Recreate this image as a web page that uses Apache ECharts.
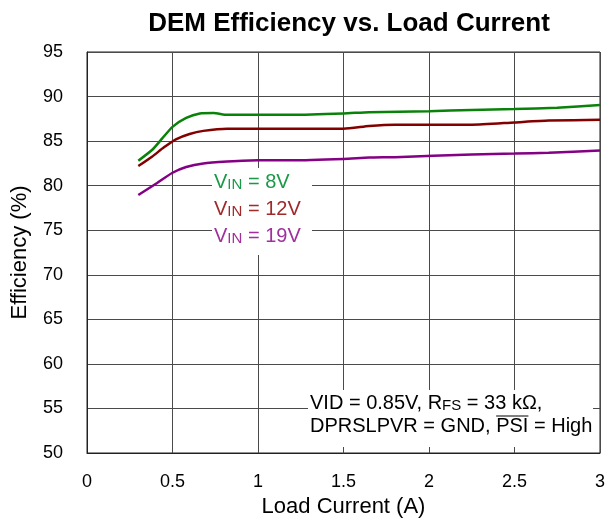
<!DOCTYPE html>
<html>
<head>
<meta charset="utf-8">
<script src="https://cdn.jsdelivr.net/npm/echarts@6/dist/echarts.min.js"></script>
<style>
    html, body { margin: 0; padding: 0; background: #fff; }
    #chart { width: 608px; height: 524px; }
</style>
</head>
<body>
<div id="chart"></div>
<script>
    // 数据
    const eff8V = [
        [0.30, 82.8], [0.38, 84.0], [0.44, 85.3], [0.50, 86.6], [0.58, 87.6],
        [0.66, 88.1], [0.74, 88.15], [0.82, 87.95], [1.0, 87.95], [1.2, 87.95],
        [1.5, 88.1], [1.65, 88.25], [2.0, 88.35], [2.25, 88.5], [2.5, 88.6],
        [2.75, 88.75], [3.0, 89.05]
    ];
    const eff12V = [
        [0.30, 82.2], [0.38, 83.25], [0.45, 84.3], [0.52, 85.2], [0.60, 85.8],
        [0.68, 86.15], [0.82, 86.4], [1.0, 86.4], [1.5, 86.4], [1.65, 86.7],
        [1.8, 86.85], [2.0, 86.85], [2.25, 86.85], [2.5, 87.1], [2.7, 87.3],
        [3.0, 87.4]
    ];
    const eff19V = [
        [0.30, 78.95], [0.41, 80.3], [0.50, 81.45], [0.58, 82.1], [0.68, 82.5],
        [0.82, 82.7], [1.0, 82.85], [1.2, 82.85], [1.5, 83.0], [1.65, 83.15],
        [1.8, 83.2], [2.25, 83.5], [2.5, 83.6], [2.7, 83.7], [3.0, 83.95]
    ];
    const vinLabels = ['8V', '12V', '19V'];

    const FONT = '"Liberation Sans", Arial, sans-serif';

    // 量一下 PSI 的位置，用来画上划线
    function textWidth(str, size) {
        const ctx = document.createElement('canvas').getContext('2d');
        ctx.font = size + 'px ' + FONT;
        return ctx.measureText(str).width;
    }
    const noteX = 310, noteY1 = 403, noteY2 = 426, noteSize = 20;
    const psiStart = noteX + textWidth('DPRSLPVR = GND, ', noteSize);
    const psiEnd = psiStart + textWidth('PSI', noteSize);

    const vinColors = ['#1a9a48', '#a02a2a', '#a0309c'];
    const vinRich = {
        v: { fontSize: 20, fontFamily: FONT, lineHeight: 20, verticalAlign: 'bottom' },
        s: { fontSize: 15, fontFamily: FONT, lineHeight: 14, verticalAlign: 'bottom' }
    };

    let myChart = echarts.init(document.getElementById('chart'));
    let option = {
        animation: false,
        title: {
            text: 'DEM Efficiency vs. Load Current',
            left: 344,
            top: 6,
            textAlign: 'center',
            textStyle: {
                fontFamily: FONT,
                fontSize: 26,
                fontWeight: 'bold',
                color: '#000'
            }
        },
        grid: {
            left: 87,
            right: 7,
            top: 52,
            bottom: 71,
            show: true,
            borderColor: '#222',
            borderWidth: 1
        },
        xAxis: {
            type: 'value',
            min: 0,
            max: 3,
            interval: 0.5,
            name: 'Load Current (A)',
            nameLocation: 'middle',
            nameGap: 38,
            nameTextStyle: { fontFamily: FONT, fontSize: 22, color: '#000' },
            axisLine: { show: true, lineStyle: { color: '#222', width: 1 } },
            axisTick: { show: false },
            axisLabel: { margin: 20, fontFamily: FONT, fontSize: 18, color: '#000' },
            splitLine: { show: true, lineStyle: { color: '#4a4a4a', width: 1 } }
        },
        yAxis: {
            type: 'value',
            min: 50,
            max: 95,
            interval: 5,
            name: 'Efficiency (%)',
            nameLocation: 'middle',
            nameGap: 56,
            nameRotate: 90,
            nameTextStyle: { fontFamily: FONT, fontSize: 22, color: '#000' },
            axisLine: { show: true, lineStyle: { color: '#222', width: 1 } },
            axisTick: { show: false },
            axisLabel: { margin: 24, fontFamily: FONT, fontSize: 18, color: '#000' },
            splitLine: { show: true, lineStyle: { color: '#4a4a4a', width: 1 } }
        },
        series: [
            {
                name: 'VIN = 8V',
                type: 'line',
                data: eff8V,
                showSymbol: false,
                smooth: 0.2,
                z: 5,
                lineStyle: { color: '#0a820a', width: 2.5 }
            },
            {
                name: 'VIN = 12V',
                type: 'line',
                data: eff12V,
                showSymbol: false,
                smooth: 0.2,
                z: 5,
                lineStyle: { color: '#820000', width: 2.5 }
            },
            {
                name: 'VIN = 19V',
                type: 'line',
                data: eff19V,
                showSymbol: false,
                smooth: 0.2,
                z: 5,
                lineStyle: { color: '#840084', width: 2.5 }
            }
        ],
        graphic: [
            // 标签背后的白底，遮住网格线
            { type: 'rect', z: 1, shape: { x: 212, y: 168, width: 100, height: 87 }, style: { fill: '#fff' } },
            { type: 'rect', z: 1, shape: { x: 308, y: 390, width: 285, height: 57 }, style: { fill: '#fff' } }
        ].concat(vinLabels.map(function (v, i) {
            return {
                type: 'text',
                z: 6,
                x: 214,
                y: 182 + i * 27,
                style: {
                    text: '{v|V}{s|IN}{v| = ' + v + '}',
                    rich: vinRich,
                    fill: vinColors[i],
                    verticalAlign: 'middle'
                }
            };
        })).concat([
            {
                type: 'text',
                z: 6,
                x: noteX,
                y: noteY1,
                style: {
                    text: '{v|VID = 0.85V, R}{s|FS}{v| = 33 kΩ,}',
                    rich: {
                        v: { fontSize: noteSize, fontFamily: FONT, lineHeight: 20, verticalAlign: 'bottom' },
                        s: { fontSize: 15, fontFamily: FONT, lineHeight: 15, verticalAlign: 'bottom' }
                    },
                    fill: '#000',
                    verticalAlign: 'middle'
                }
            },
            {
                type: 'text',
                z: 6,
                x: noteX,
                y: noteY2,
                style: {
                    text: 'DPRSLPVR = GND, PSI = High',
                    font: noteSize + 'px ' + FONT,
                    fill: '#000',
                    verticalAlign: 'middle'
                }
            },
            {
                type: 'line',
                z: 6,
                shape: { x1: psiStart, y1: noteY2 - 10, x2: psiEnd, y2: noteY2 - 10 },
                style: { stroke: '#000', lineWidth: 1 }
            }
        ])
    };
    myChart.setOption(option);
</script>
</body>
</html>
